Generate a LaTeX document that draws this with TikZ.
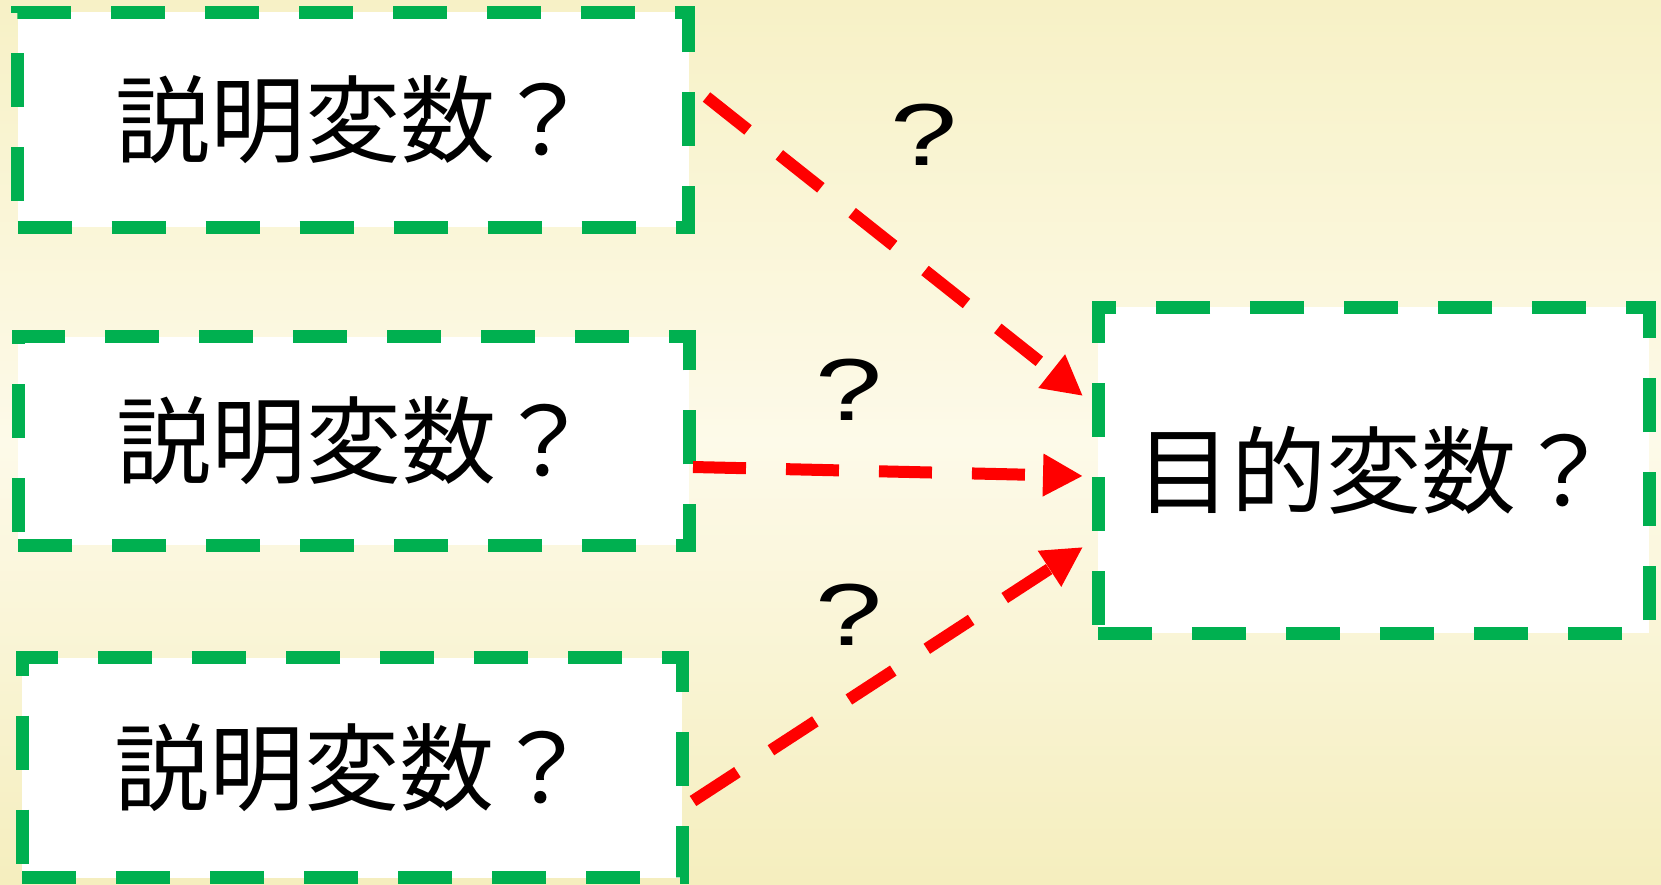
\documentclass[tikz,border=0pt]{standalone}
\usepackage{fontspec}
\usepackage{graphicx}
\setmainfont{Liberation Sans}
\newfontfamily\cjk{Noto Sans CJK JP}
\usetikzlibrary{arrows.meta,calc}
\definecolor{boxgreen}{RGB}{0,176,80}
\definecolor{linkred}{RGB}{255,0,0}
\definecolor{bgtop}{RGB}{247,241,198}
\definecolor{bgmid}{RGB}{253,250,233}
\definecolor{bgbot}{RGB}{245,238,190}
\begin{document}
\begin{tikzpicture}[x=1pt,y=-1pt,
  varbox/.style={rectangle, draw=boxgreen, line width=13pt, dash pattern=on 54pt off 40pt,
    fill=white, inner sep=0pt, outer sep=0pt, font=\cjk\fontsize{95}{95}\selectfont},
  link/.style={draw=linkred, line width=12pt, dash pattern=on 53pt off 40pt,
    -{Triangle[length=40pt,width=40pt]}},
  qmark/.style={inner sep=0pt, font=\fontsize{88}{88}\selectfont}]
\path[use as bounding box] (0,0) rectangle (1661,884);
\shade[top color=bgtop, bottom color=bgmid] (0,0) rectangle (1661,443);
\shade[top color=bgmid, bottom color=bgbot] (0,442) rectangle (1661,884);

\node[varbox, minimum width=671pt, minimum height=215pt] (x1) at (353,119.5) {説明変数？};
\node[varbox, minimum width=671pt, minimum height=208.5pt] (x2) at (353.5,441) {説明変数？};
\node[varbox, minimum width=660pt, minimum height=220pt] (x3) at (352,767.5) {説明変数？};
\node[varbox, minimum width=551pt, minimum height=326pt] (y) at (1373.5,470) {目的変数？};

\draw[link] ($(x1.east)+(18,-22.5)$) -- ($(y.west)+(-15,-74)$);
\draw[link] ($(x2.east)+(4,26)$) -- ($(y.west)+(-15,6)$);
\draw[link] ($(x3.east)+(11,33.5)$) -- ($(y.west)+(-15,77)$);

\node[qmark] (q1) at (924,135) {\scalebox{1.37}[1]{?}};
\node[qmark] (q2) at (849,390) {\scalebox{1.37}[1]{?}};
\node[qmark] (q3) at (849,615) {\scalebox{1.37}[1]{?}};
\end{tikzpicture}
\end{document}
